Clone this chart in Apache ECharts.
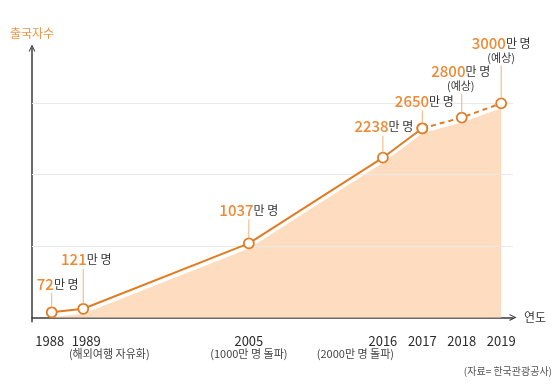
<!DOCTYPE html>
<html>
<head>
<meta charset="utf-8">
<script src="https://cdn.jsdelivr.net/npm/echarts@6/dist/echarts.min.js"></script>
<style>
html,body{margin:0;padding:0;background:#fff;}
#chart{width:560px;height:385px;}
</style>
</head>
<body>
<div id="chart"></div>
<script>
// ---- data ----
const years = ['1988', '1989', '2005', '2016', '2017', '2018', '2019'];
const visitors = [72, 121, 1037, 2238, 2650, 2800, 3000];
const yearNotes = ['', '(해외여행 자유화)', '(1000만 명 돌파)', '(2000만 명 돌파)', '', '', ''];
const forecastNotes = ['', '', '', '', '', '(예상)', '(예상)'];
const gridValues = [1000, 2000, 3000];
const actualCount = 5; // 1988..2017 are actual figures

// ---- layout (not data) ----
const slotGaps = [4, 21, 17, 5, 5, 5];
const leadSlots = 2, tailSlots = 1;
const labelLift = [19, 40, 24, 22, 18, 24, 38];
const labelDx = [6, 3, 0, 1, 2, -1, 0];
const yearStyle = ['yl', 'yr', 'y', 'y', 'y', 'y', 'y'];
const noteStyle = ['n', 'nl', 'n', 'nr', 'n', 'n', 'n'];

const categories = [];
for (let i = 0; i < leadSlots; i++) categories.push('');
years.forEach((y, i) => {
  categories.push(y);
  if (i < slotGaps.length) for (let k = 1; k < slotGaps[i]; k++) categories.push('');
});
for (let i = 0; i < tailSlots; i++) categories.push('');

const allData = years.map((y, i) => [y, visitors[i]]);
const solidData = allData.slice(0, actualCount);
const dashData = allData.slice(actualCount - 1);

const ORANGE = '#e27b22';
const FONT = '"Noto Sans CJK KR", "Noto Sans", sans-serif';
const chevron = 'path://M0,10 L5,0 L10,10 L8.4,10 L5,3.2 L1.6,10 Z';
const yBase = {fontSize: 13, color: '#2b2b2b', lineHeight: 14, fontFamily: FONT};
const nBase = {fontSize: 11, color: '#444', lineHeight: 13, fontFamily: FONT};

const chart = echarts.init(document.getElementById('chart'), null, {renderer: 'canvas'});
chart.setOption({
  animation: false,
  backgroundColor: '#fff',
  textStyle: {fontFamily: FONT},
  grid: [
    {left: 32, right: 47, top: 48, bottom: 63.3},
    {left: 32, right: 47, top: 53, bottom: 58.3}
  ],
  xAxis: [{
    type: 'category', gridIndex: 0, data: categories, boundaryGap: true,
    axisLine: {show: true, symbol: ['none', chevron], symbolSize: [9, 7],
      lineStyle: {color: '#3a3a3a', width: 1.5}},
    axisTick: {show: false},
    name: '연도', nameLocation: 'end', nameGap: 11,
    nameTextStyle: {color: '#333', fontSize: 12, fontFamily: FONT},
    axisLabel: {
      interval: 0, margin: 12, fontFamily: FONT,
      formatter: function (v) {
        const i = years.indexOf(v);
        if (i < 0) return '';
        let s = '{' + yearStyle[i] + '|' + v + '}';
        if (yearNotes[i]) s += '\n{' + noteStyle[i] + '|' + yearNotes[i] + '}';
        return s;
      },
      rich: {
        y: yBase,
        yl: Object.assign({}, yBase, {padding: [0, 4, 0, 0]}),
        yr: Object.assign({}, yBase, {padding: [0, 0, 0, 6]}),
        n: nBase,
        nl: Object.assign({}, nBase, {padding: [0, 0, 0, 52]}),
        nr: Object.assign({}, nBase, {padding: [0, 55, 0, 0]})
      }
    },
    splitLine: {show: false}
  }, {
    type: 'category', gridIndex: 1, data: categories, boundaryGap: true, show: false
  }],
  yAxis: [{
    type: 'value', gridIndex: 0, min: -60, max: 3775,
    axisLine: {show: true, symbol: ['none', chevron], symbolSize: [9, 7],
      lineStyle: {color: '#3a3a3a', width: 1.5}},
    axisTick: {show: false}, axisLabel: {show: false}, splitLine: {show: false},
    name: '출국자수', nameLocation: 'end', nameGap: 9,
    nameTextStyle: {color: '#ef9448', fontSize: 12, fontFamily: FONT, align: 'center'}
  }, {
    type: 'value', gridIndex: 1, min: -60, max: 3775, show: false
  }],
  series: [{
    type: 'line', xAxisIndex: 1, yAxisIndex: 1, data: allData, z: 1,
    symbol: 'none', silent: true,
    lineStyle: {width: 0, opacity: 0},
    areaStyle: {color: '#fddcc0', opacity: 1, origin: 70}
  }, {
    type: 'line', xAxisIndex: 0, yAxisIndex: 0, data: solidData, z: 3,
    symbol: 'circle', symbolSize: 10, showAllSymbol: true,
    lineStyle: {color: ORANGE, width: 2},
    itemStyle: {color: '#fff', borderColor: ORANGE, borderWidth: 1.8},
    markLine: {
      z: 2, silent: true, symbol: 'none', label: {show: false},
      lineStyle: {color: '#e9e9e9', width: 1, type: 'solid'},
      data: gridValues.map(v => ({yAxis: v}))
    }
  }, {
    type: 'line', xAxisIndex: 0, yAxisIndex: 0, data: dashData, z: 3,
    symbol: 'circle', symbolSize: 10, showAllSymbol: true,
    lineStyle: {color: ORANGE, width: 2, type: [5, 4]},
    itemStyle: {color: '#fff', borderColor: ORANGE, borderWidth: 1.8}
  }, {
    type: 'custom', xAxisIndex: 0, yAxisIndex: 0, data: allData, z: 4, silent: true,
    encode: {x: 0, y: 1},
    renderItem: function (params, api) {
      const i = params.dataIndex;
      const p = api.coord([api.value(0), api.value(1)]);
      const lift = labelLift[i];
      let txt = '{a|' + visitors[i] + '}{b|만 명}';
      if (forecastNotes[i]) txt += '\n{c|' + forecastNotes[i] + '}';
      return {
        type: 'group',
        children: [{
          type: 'line',
          shape: {x1: p[0], y1: p[1] - 5, x2: p[0], y2: p[1] - lift},
          style: {stroke: '#f2b27a', lineWidth: 1}
        }, {
          type: 'text',
          style: {
            text: txt, x: p[0] + labelDx[i], y: p[1] - lift - 1,
            align: 'center', verticalAlign: 'bottom',
            rich: {
              a: {fontSize: 15, fontWeight: 500, fill: '#ec8a35', lineHeight: 16, fontFamily: FONT},
              b: {fontSize: 12, fill: '#333', lineHeight: 16, fontFamily: FONT},
              c: {fontSize: 11, fill: '#333', lineHeight: 13, fontFamily: FONT}
            }
          }
        }]
      };
    }
  }],
  graphic: [{
    type: 'text', right: 8, top: 366,
    style: {text: '(자료= 한국관광공사)', fontSize: 10, fill: '#555', fontFamily: FONT}
  }]
});
</script>
</body>
</html>
